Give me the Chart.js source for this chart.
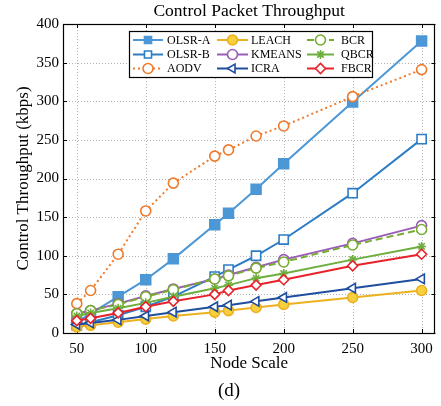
<!DOCTYPE html>
<html><head><meta charset="utf-8">
<script src="https://cdn.jsdelivr.net/npm/chart.js@4/dist/chart.umd.min.js"></script>
<style>
html,body{margin:0;padding:0;overflow:hidden;background:#fff;width:441px;height:406px}
#wrap{width:444px;height:406px}
</style></head>
<body><div id="wrap"><canvas id="c" width="444" height="406"></canvas></div>
<script>
// ---- data ----
const nodeScale = [50, 60, 80, 100, 120, 150, 160, 180, 200, 250, 300];
const xTickValues = [50, 100, 150, 200, 250, 300];
const seriesNames = ['OLSR-A', 'OLSR-B', 'AODV', 'LEACH', 'KMEANS', 'ICRA', 'BCR', 'QBCR', 'FBCR'];
const olsrA  = [14, 25, 47, 69, 96, 140, 155, 186, 219, 299, 378];
const olsrB  = [10, 14, 23, 34, 47, 73, 82, 100, 121, 181, 251];
const aodv   = [38, 55, 102, 158, 194, 229, 237, 255, 268, 306, 341];
const leach  = [8, 10, 14, 18, 22, 27, 29, 33, 37, 46, 55];
const kmeans = [25, 29, 38, 48, 57, 70, 75, 85, 95, 116, 139];
const icra   = [11, 13, 17, 22, 27, 34, 36, 41, 46, 58, 70];
const bcr    = [25, 29, 37, 47, 56, 70, 74, 84, 92, 114, 134];
const qbcr   = [22, 26, 32, 39, 47, 58, 62, 71, 77, 95, 112];
const fbcr   = [16, 19, 26, 34, 41, 50, 55, 62, 69, 87, 102];
const seriesValues = [olsrA, olsrB, aodv, leach, kmeans, icra, bcr, qbcr, fbcr];

// ---- styles ----
const styles = [
  {color:'#4C97D6', fill:'#4C97D6', pointStyle:'rect', r:7, dash:[]},
  {color:'#2C7DC6', fill:'#ffffff', pointStyle:'rect', r:6.5, dash:[]},
  {color:'#F07A2C', fill:'#ffffff', pointStyle:'circle', r:5, dash:[2,3]},
  {color:'#EDB120', fill:'#F7CF3F', pointStyle:'circle', r:5, dash:[]},
  {color:'#9A5CB8', fill:'#ffffff', pointStyle:'circle', r:5, dash:[]},
  {color:'#1F4E9E', fill:'#ffffff', pointStyle:'triangle', r:5.5, rot:-90, dash:[]},
  {color:'#77AC30', fill:'#ffffff', pointStyle:'circle', r:5, dash:[7,4]},
  {color:'#6DAE3E', fill:'#6DAE3E', pointStyle:'star', r:4.5, dash:[]},
  {color:'#E8222A', fill:'#ffffff', pointStyle:'rectRot', r:5, dash:[]}
];

const FONT = "'Liberation Serif', 'Times New Roman', serif";
Chart.defaults.font.family = FONT;
Chart.defaults.color = '#000';

const datasets = seriesNames.map((name, i) => {
  const s = styles[i];
  return {
    label: name,
    data: nodeScale.map((x, j) => ({x: x, y: seriesValues[i][j]})),
    borderColor: s.color,
    backgroundColor: s.fill,
    borderWidth: 2,
    borderDash: s.dash,
    pointStyle: s.pointStyle,
    pointRadius: s.r,
    pointRotation: s.rot || 0,
    pointBorderWidth: 1.6,
    pointBorderColor: s.color,
    pointBackgroundColor: s.fill,
    tension: 0,
    order: seriesNames.length - i
  };
});

const framePlugin = {
  id: 'frame',
  beforeDatasetsDraw(chart) {
    const {ctx, chartArea: a, scales} = chart;
    ctx.save();
    // dotted grid
    ctx.strokeStyle = '#b4b4b4';
    ctx.lineWidth = 1;
    ctx.setLineDash([1, 2]);
    ctx.beginPath();
    xTickValues.forEach(v => {
      const x = Math.round(scales.x.getPixelForValue(v)) + 0.5;
      ctx.moveTo(x, a.top); ctx.lineTo(x, a.bottom);
    });
    scales.y.ticks.forEach(t => {
      const y = Math.round(scales.y.getPixelForValue(t.value)) + 0.5;
      ctx.moveTo(a.left, y); ctx.lineTo(a.right, y);
    });
    ctx.stroke();
    ctx.setLineDash([]);
    // frame
    ctx.strokeStyle = '#000';
    ctx.lineWidth = 1.2;
    ctx.strokeRect(Math.round(a.left) + 0.5, Math.round(a.top) + 0.5, Math.round(a.right - a.left) - 1, Math.round(a.bottom - a.top));
    const tl = 4;
    ctx.lineWidth = 1;
    ctx.beginPath();
    xTickValues.forEach(v => {
      const x = Math.round(scales.x.getPixelForValue(v)) + 0.5;
      ctx.moveTo(x, a.bottom); ctx.lineTo(x, a.bottom - tl);
      ctx.moveTo(x, a.top); ctx.lineTo(x, a.top + tl);
    });
    scales.y.ticks.forEach(t => {
      const y = Math.round(scales.y.getPixelForValue(t.value)) + 0.5;
      ctx.moveTo(a.left, y); ctx.lineTo(a.left + tl, y);
      ctx.moveTo(a.right, y); ctx.lineTo(a.right - tl, y);
    });
    ctx.stroke();
    ctx.restore();
  },
  afterDraw(chart) {
    const ctx = chart.ctx;
    ctx.save();
    // legend box
    const bx = 129.5, by = 31.5, bw = 243, bh = 46;
    ctx.fillStyle = '#fff';
    ctx.fillRect(bx, by, bw, bh);
    ctx.strokeStyle = '#000';
    ctx.lineWidth = 1.2;
    ctx.strokeRect(bx, by, bw, bh);
    const colLineStart = [133, 217, 307];
    const colLineEnd = [163, 248, 334];
    const colText = [167, 251, 341];
    const rowY = [40, 54.5, 68.5];
    ctx.font = '12px ' + FONT;
    ctx.textBaseline = 'middle';
    ctx.textAlign = 'left';
    chart.data.datasets.forEach((ds, i) => {
      const col = Math.floor(i / 3), row = i % 3;
      const y = rowY[row];
      ctx.save();
      ctx.strokeStyle = ds.borderColor;
      ctx.lineWidth = ds.borderWidth;
      ctx.setLineDash(ds.borderDash || []);
      ctx.beginPath();
      ctx.moveTo(colLineStart[col], y);
      ctx.lineTo(colLineEnd[col], y);
      ctx.stroke();
      ctx.setLineDash([]);
      ctx.fillStyle = ds.pointBackgroundColor;
      ctx.strokeStyle = ds.pointBorderColor;
      ctx.lineWidth = ds.pointBorderWidth;
      const mx = (colLineStart[col] + colLineEnd[col]) / 2;
      Chart.helpers.drawPoint(ctx, {pointStyle: ds.pointStyle, radius: Math.min(ds.pointRadius, 5), rotation: ds.pointRotation, borderWidth: ds.pointBorderWidth}, mx, y);
      ctx.restore();
      ctx.fillStyle = '#000';
      ctx.fillText(ds.label, colText[col], y + 0.5);
    });
    // caption
    ctx.font = '19px ' + FONT;
    ctx.textAlign = 'center';
    ctx.fillStyle = '#000';
    ctx.fillText('(d)', 229, 391);
    ctx.restore();
  }
};

new Chart(document.getElementById('c'), {
  type: 'line',
  data: { datasets: datasets },
  options: {
    responsive: false,
    animation: false,
    devicePixelRatio: 1,
    layout: { padding: {top: 0, left: 0, right: 0, bottom: 28} },
    plugins: {
      legend: { display: false },
      tooltip: { enabled: false },
      title: {
        display: true,
        text: 'Control Packet Throughput',
        fullSize: false,
        color: '#000',
        font: { size: 17.5, weight: 'normal', family: FONT },
        padding: { top: 1, bottom: 2 }
      }
    },
    scales: {
      x: {
        type: 'linear',
        min: 40, max: 310,
        afterBuildTicks(axis) { axis.ticks = xTickValues.map(v => ({value: v})); },
        afterFit(scale) { scale.height = 45; },
        grid: { display: false, drawTicks: false },
        border: { display: false },
        ticks: { padding: 7, color: '#000', font: { size: 15, family: FONT } },
        title: { display: true, text: 'Node Scale', color: '#000', font: { size: 17, family: FONT }, padding: { top: 0, bottom: 4 } }
      },
      y: {
        min: 0, max: 400,
        afterFit(scale) { scale.width = 63; },
        grid: { display: false, drawTicks: false },
        border: { display: false },
        ticks: { stepSize: 50, padding: 4, color: '#000', font: { size: 15, family: FONT } },
        title: { display: true, text: 'Control Throughput (kbps)', color: '#000', font: { size: 17, family: FONT }, padding: { top: 13, bottom: 0 } }
      }
    }
  },
  plugins: [framePlugin]
});
</script>
</body></html>
